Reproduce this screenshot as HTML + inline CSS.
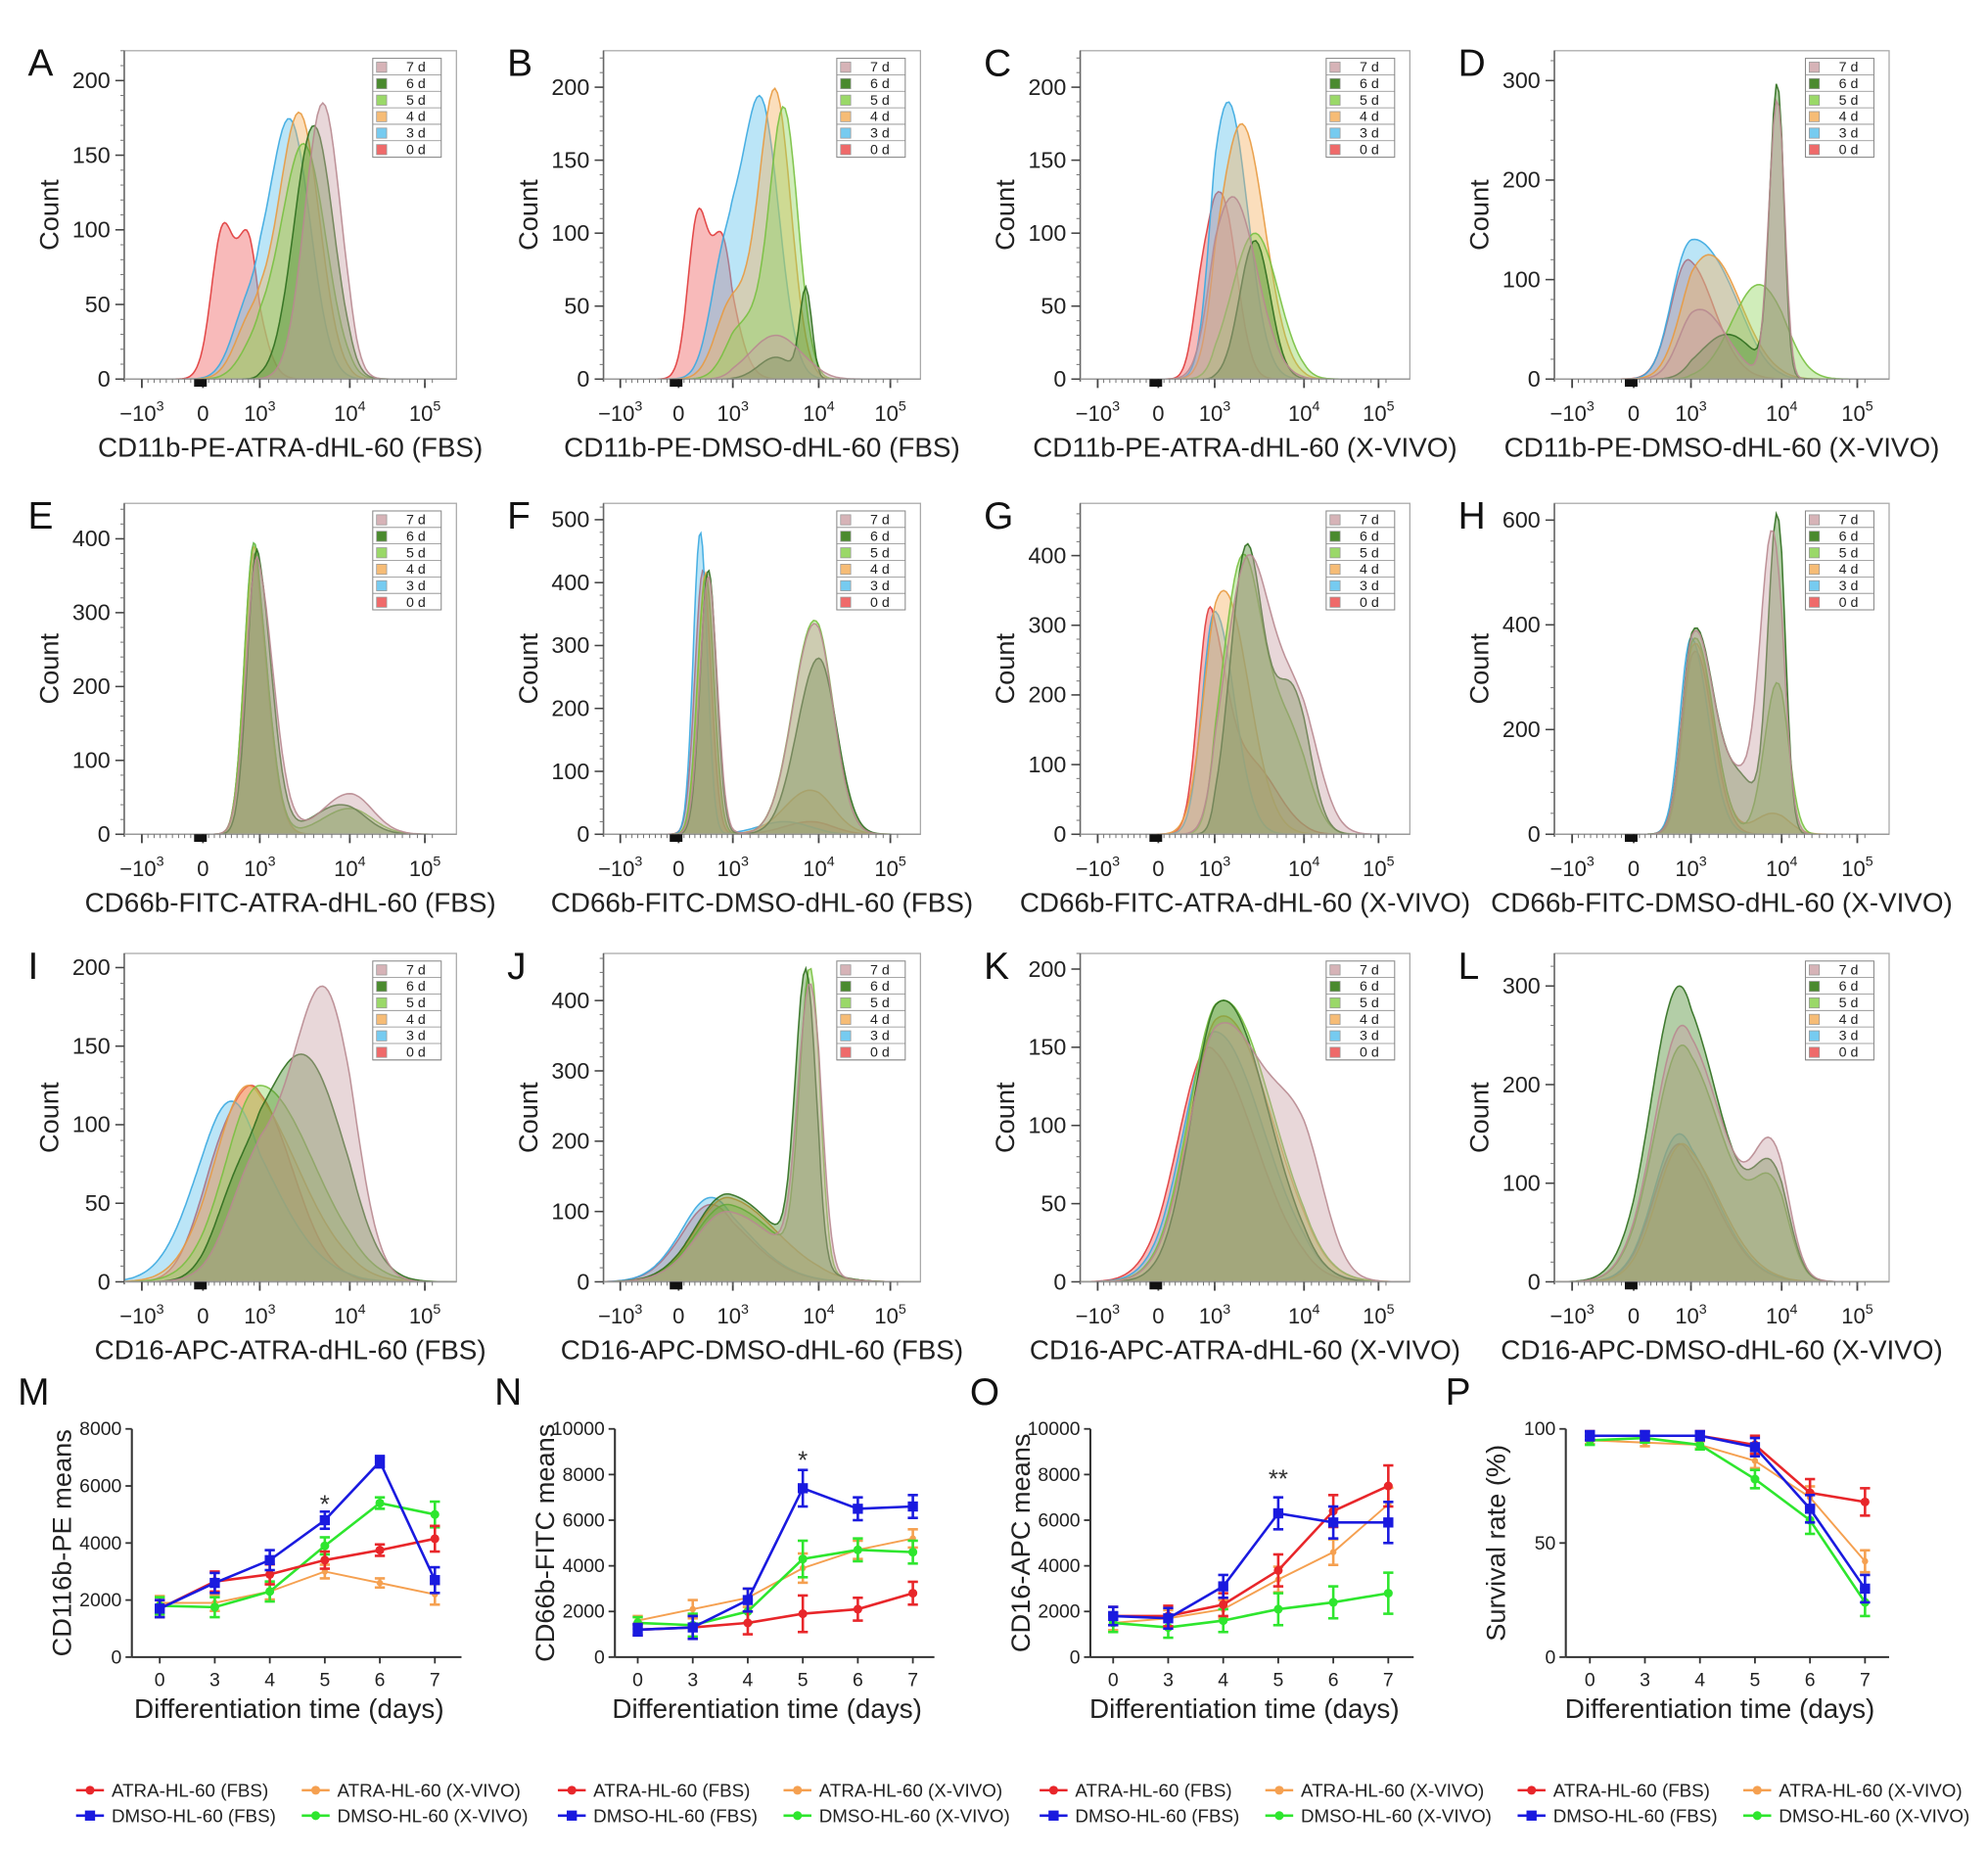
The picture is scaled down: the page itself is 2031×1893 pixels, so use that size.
<!DOCTYPE html>
<html><head><meta charset="utf-8"><style>
html,body{margin:0;padding:0;background:#fff;}
svg{display:block;font-family:"Liberation Sans",Arial,sans-serif;}
</style></head><body>
<svg id="fig" width="2031" height="1893" viewBox="0 0 1568 1461.5" preserveAspectRatio="none" xmlns="http://www.w3.org/2000/svg">
<rect x="0" y="0" width="1568" height="1461.5" fill="#fff"/>
</svg>
<script>
// ---------- histogram data (peak components: [center in decade units, height, sigma]) ----------
const histSeriesNames=['0 d','3 d','4 d','5 d','6 d','7 d'];
const legendOrder=['7 d','6 d','5 d','4 d','3 d','0 d'];
const xTickLabels=['-1e3','0','1e3','1e4','1e5'];
const xTickValues=[-1,0,1,2,3];
const panelLetters=['A','B','C','D','E','F','G','H','I','J','K','L'];
const panelTitles=['CD11b-PE-ATRA-dHL-60 (FBS)','CD11b-PE-DMSO-dHL-60 (FBS)','CD11b-PE-ATRA-dHL-60 (X-VIVO)','CD11b-PE-DMSO-dHL-60 (X-VIVO)',
'CD66b-FITC-ATRA-dHL-60 (FBS)','CD66b-FITC-DMSO-dHL-60 (FBS)','CD66b-FITC-ATRA-dHL-60 (X-VIVO)','CD66b-FITC-DMSO-dHL-60 (X-VIVO)',
'CD16-APC-ATRA-dHL-60 (FBS)','CD16-APC-DMSO-dHL-60 (FBS)','CD16-APC-ATRA-dHL-60 (X-VIVO)','CD16-APC-DMSO-dHL-60 (X-VIVO)'];
const panelYMax=[220,225,225,330,448,526,475,632,209,467,210,333];
const panelYTicks=[[0,50,100,150,200],[0,50,100,150,200],[0,50,100,150,200],[0,100,200,300],
[0,100,200,300,400],[0,100,200,300,400,500],[0,100,200,300,400],[0,200,400,600],
[0,50,100,150,200],[0,100,200,300,400],[0,50,100,150,200],[0,100,200,300]];
const peaksA=[[[0.35,100,0.2],[0.8,90,0.18]],[[0.85,55,0.3],[1.35,160,0.22]],[[0.9,45,0.3],[1.45,170,0.22]],[[1.0,30,0.3],[1.5,150,0.24]],[[1.6,170,0.22]],[[1.7,185,0.2]]];
const peaksB=[[[0.35,108,0.18],[0.8,95,0.2]],[[0.9,95,0.28],[1.35,165,0.2]],[[1.0,55,0.3],[1.5,185,0.18]],[[1.2,40,0.3],[1.6,170,0.16]],[[1.85,60,0.07],[1.5,15,0.2]],[[1.5,30,0.3]]];
const peaksC=[[[0.8,70,0.17],[1.1,110,0.16]],[[1.15,190,0.22]],[[1.3,175,0.26]],[[1.45,100,0.26]],[[1.45,95,0.17]],[[1.2,125,0.27]]];
const peaksD=[[[0.95,120,0.3]],[[0.9,110,0.28],[1.35,80,0.28]],[[1.2,125,0.35]],[[1.75,95,0.3]],[[1.4,45,0.3],[1.95,290,0.08]],[[1.1,70,0.3],[1.95,280,0.09]]];
const peaksE=[[[0.9,380,0.17]],[[0.9,395,0.17]],[[0.9,390,0.17]],[[0.9,395,0.17],[2.0,35,0.3]],[[0.95,385,0.17],[1.9,40,0.3]],[[0.95,375,0.19],[2.0,55,0.3]]];
const peaksF=[[[0.45,420,0.15],[1.9,20,0.3]],[[0.4,480,0.13],[1.6,20,0.3]],[[0.5,415,0.15],[1.9,70,0.3]],[[0.5,410,0.15],[1.95,340,0.25]],[[0.55,420,0.15],[2.0,280,0.25]],[[0.55,410,0.16],[1.95,335,0.25]]];
const peaksG=[[[0.9,300,0.2],[1.4,100,0.3]],[[1.0,320,0.22]],[[1.1,350,0.28]],[[1.3,380,0.22],[1.8,150,0.25]],[[1.35,400,0.18],[1.85,210,0.22]],[[1.35,370,0.25],[1.9,190,0.28]]];
const peaksH=[[[1.05,350,0.19]],[[1.0,375,0.19]],[[1.05,365,0.2],[1.9,40,0.2]],[[1.05,375,0.2],[1.95,290,0.14]],[[1.05,390,0.2],[1.95,600,0.1],[1.55,100,0.2]],[[1.05,385,0.2],[1.9,560,0.13],[1.55,100,0.2]]];
const peaksI=[[[0.3,70,0.4],[1.0,105,0.4]],[[0.5,115,0.6]],[[0.8,125,0.6]],[[1.0,125,0.6]],[[0.6,55,0.4],[1.5,140,0.45]],[[1.0,80,0.5],[1.75,160,0.33]]];
const peaksJ=[[[0.6,110,0.55]],[[0.6,120,0.55]],[[0.9,120,0.6]],[[0.9,110,0.6],[1.9,420,0.12]],[[0.9,125,0.6],[1.85,410,0.12]],[[0.9,100,0.6],[1.9,400,0.14]]];
const peaksK=[[[0.9,150,0.55]],[[1.0,160,0.55]],[[1.1,170,0.55]],[[1.1,180,0.55]],[[1.1,180,0.5]],[[1.1,165,0.55],[2.0,60,0.3]]];
const peaksL=[[[0.8,140,0.45]],[[0.8,150,0.45]],[[0.85,140,0.45]],[[0.85,240,0.5],[1.9,80,0.2]],[[0.8,300,0.5],[1.9,95,0.2]],[[0.85,260,0.5],[1.9,115,0.2]]];
const allPeaks=[peaksA,peaksB,peaksC,peaksD,peaksE,peaksF,peaksG,peaksH,peaksI,peaksJ,peaksK,peaksL];

// ---------- line chart data ----------
const days=['0','3','4','5','6','7'];
const lineSeriesNames=['ATRA-HL-60 (FBS)','ATRA-HL-60 (X-VIVO)','DMSO-HL-60 (FBS)','DMSO-HL-60 (X-VIVO)'];
const mRed=[1700,2650,2900,3400,3750,4150], mOrange=[1900,1900,2300,3000,2600,2200], mBlue=[1700,2600,3400,4800,6850,2700], mGreen=[1800,1750,2300,3900,5400,5000];
const mErr=[300,350,350,300,200,450];
const nRed=[1200,1300,1500,1900,2100,2800], nOrange=[1600,2100,2600,3900,4700,5200], nBlue=[1200,1300,2500,7400,6500,6600], nGreen=[1500,1400,2000,4300,4700,4600];
const nErr=[250,500,500,800,500,500];
const oRed=[1800,1800,2300,3800,6400,7500], oOrange=[1500,1700,2100,3400,4600,6700], oBlue=[1800,1700,3100,6300,5900,5900], oGreen=[1500,1300,1600,2100,2400,2800];
const oErr=[400,450,500,700,700,900];
const pRed=[97,97,97,93,72,68], pOrange=[95,94,93,86,70,42], pBlue=[97,97,97,92,65,30], pGreen=[95,96,93,78,60,24];
const pErr=[2,2,2,4,6,6];
const lineYMax=[8000,10000,10000,100];
const lineYTicks=[[0,2000,4000,6000,8000],[0,2000,4000,6000,8000,10000],[0,2000,4000,6000,8000,10000],[0,50,100]];
const lineTitles=['CD116b-PE means','CD66b-FITC means','CD16-APC means','Survival rate (%)'];
const lineLetters=['M','N','O','P'];

// ---------- layout ----------
const NS='http://www.w3.org/2000/svg';
const svg=document.getElementById('fig');
function mk(tag,attrs,parent){const e=document.createElementNS(NS,tag);for(const k in attrs)e.setAttribute(k,attrs[k]);(parent||svg).appendChild(e);return e;}
const colLeft=[98,476,852,1226], colW=[262,250,260,264];
const rowTop=[40,397,752], rowBot=[299,658,1011];
const histFill=['#ee5a5a','#5cc0ec','#f5b060','#8fd45a','#4a8a2e','#c9a0a5'];
const histStroke=['#e03a3a','#3aa8e0','#e89a40','#78c040','#2f6e1e','#b88a90'];
const legendColor={'7 d':'#d6b3b7','6 d':'#4a8a2e','5 d':'#9ad868','4 d':'#f6bc76','3 d':'#76cbf0','0 d':'#ef6a6a'};
const uKnots=[-1,0,1,2,3], fKnots=[0.053,0.237,0.408,0.679,0.905];
function uFrac(u){ if(u<=-1) return fKnots[0]+(u+1)*(fKnots[1]-fKnots[0]);
 if(u>=3) return fKnots[4]+(u-3)*(fKnots[4]-fKnots[3]);
 for(let i=0;i<4;i++){ if(u<=uKnots[i+1]) return fKnots[i]+(u-uKnots[i])*(fKnots[i+1]-fKnots[i]); } }

for(let p=0;p<12;p++){
  const c=p%4, r=Math.floor(p/4);
  const L=colLeft[c], W=colW[c], T=rowTop[r], B=rowBot[r], ymax=panelYMax[p];
  const xs=u=>L+uFrac(u)*W, ys=v=>B-v/ymax*(B-T);
  const g=mk('g',{});
  
  
  const lt=mk('text',{x:L-76,y:T+20,'font-size':30,fill:'#111'},g); lt.textContent=panelLetters[p];
  
  
  const clip='clip'+p;
  const cp=mk('clipPath',{id:clip},g); mk('rect',{x:L,y:T,width:W,height:B-T},cp);
  const sg=mk('g',{'clip-path':'url(#'+clip+')'},g);
  for(let s=0;s<6;s++){
    const comps=allPeaks[p][s];
    let d='M'+L+','+B;
    for(let i=0;i<=160;i++){
      const u=-1.3+i*(4.8/160); let v=0;
      for(const cpn of comps){const z=(u-cpn[0])/cpn[2]; v+=cpn[1]*Math.exp(-0.5*z*z);}
      d+=' L'+xs(u).toFixed(1)+','+ys(v).toFixed(1);
    }
    d+=' L'+(L+W)+','+B+' Z';
    const path=mk('path',{d:d,fill:histFill[s],'fill-opacity':0.42,stroke:histStroke[s],'stroke-width':1.2,'stroke-opacity':0.9},sg);
    
    
  }
  const box=mk('rect',{x:L,y:T,width:W,height:B-T,fill:'none',stroke:'#aaa','stroke-width':1},g);
  
  
  mk('line',{x1:L,y1:T,x2:L,y2:B+2,stroke:'#666','stroke-width':1.2},g);
  const step=panelYTicks[p][1]/5;
  for(let v=0;v<=ymax;v+=step){ mk('line',{x1:L-3,y1:ys(v),x2:L,y2:ys(v),stroke:'#777','stroke-width':0.8},g); }
  for(const v of panelYTicks[p]){
    mk('line',{x1:L-7,y1:ys(v),x2:L,y2:ys(v),stroke:'#444','stroke-width':1.2},g);
    const t=mk('text',{x:L-11,y:ys(v)+6,'font-size':18,'text-anchor':'end',fill:'#222'},g); t.textContent=v;
    
    
  }
  const yt=mk('text',{x:0,y:0,'font-size':21,'text-anchor':'middle',fill:'#222',transform:'translate('+(L-52)+','+((T+B)/2)+') rotate(-90)'},g); yt.textContent='Count';
  
  
  mk('line',{x1:L,y1:B,x2:L+W,y2:B,stroke:'#999','stroke-width':1.2},g);
  for(let i=0;i<5;i++){
    const x=xs(xTickValues[i]);
    mk('line',{x1:x,y1:B,x2:x,y2:B+7,stroke:'#444','stroke-width':1.4},g);
    const t=mk('text',{x:x,y:B+33,'font-size':17,'text-anchor':'middle',fill:'#222'},g);
    
    
    const lab=xTickLabels[i];
    if(lab==='0'){t.textContent='0';}
    else { const neg=lab[0]==='-'; const e=lab.slice(-1);
      const t1=mk('tspan',{},t); t1.textContent=(neg?'\u221210':'10');
      const t2=mk('tspan',{dy:-8,'font-size':11},t); t2.textContent=e; }
  }
  for(let u=-0.9;u<3.2;u+=0.1){ mk('line',{x1:xs(u),y1:B,x2:xs(u),y2:B+3,stroke:'#666','stroke-width':0.7},g); }
  mk('rect',{x:xs(0)-7,y:B,width:10,height:6,fill:'#111'},g);
  const xt=mk('text',{x:L+W/2,y:B+61,'font-size':21.5,'text-anchor':'middle',fill:'#222'},g); xt.textContent=panelTitles[p];
  
  
  const lx=L+W-66, ly=T+6;
  const lg=mk('g',{},g);
  
  
  mk('rect',{x:lx,y:ly,width:54,height:78,fill:'#fff',stroke:'#888','stroke-width':0.8},lg);
  for(let i=0;i<6;i++){
    const yy=ly+i*13;
    mk('line',{x1:lx,y1:yy+13,x2:lx+54,y2:yy+13,stroke:'#888','stroke-width':0.6},lg);
    mk('rect',{x:lx+3,y:yy+3,width:8,height:8,fill:legendColor[legendOrder[i]],stroke:'#999','stroke-width':0.6},lg);
    const t=mk('text',{x:lx+34,y:yy+10.5,'font-size':11,'text-anchor':'middle',fill:'#222'},lg); t.textContent=legendOrder[i];
    
    
  }
}

// ---------- line charts ----------
const lineLeft=[104,485,860,1235], lineRight=[364,737,1115,1490], lineX0=[126,503,878,1254];
const LY0=1307, LYT=1127, LSTEP=43.4;
const lineData=[[mRed,mOrange,mBlue,mGreen],[nRed,nOrange,nBlue,nGreen],[oRed,oOrange,oBlue,oGreen],[pRed,pOrange,pBlue,pGreen]];
const lineErr=[mErr,nErr,oErr,pErr];
const lineColors=['#e8262a','#f5a050','#1a1adf','#2ee62e'];
const drawOrder=[1,3,0,2];
const stars=[['*',3,4800+700],['*',3,7400+1400],['**',3,6300+1700],null];
for(let k=0;k<4;k++){
  const L=lineLeft[k], R=lineRight[k], ymax=lineYMax[k];
  const xs=i=>lineX0[k]+i*LSTEP, ys=v=>LY0-v/ymax*(LY0-LYT);
  const g=mk('g',{});
  
  
  const lt=mk('text',{x:L-90+(k===0?0:-5),y:1108,'font-size':30,fill:'#111'},g); lt.textContent=lineLetters[k];
  
  
  mk('line',{x1:L,y1:LYT,x2:L,y2:LY0,stroke:'#333','stroke-width':1.6},g);
  mk('line',{x1:L,y1:LY0,x2:R,y2:LY0,stroke:'#333','stroke-width':1.6},g);
  for(const v of lineYTicks[k]){
    mk('line',{x1:L-5,y1:ys(v),x2:L,y2:ys(v),stroke:'#333','stroke-width':1.4},g);
    const t=mk('text',{x:L-8,y:ys(v)+5,'font-size':15,'text-anchor':'end',fill:'#222'},g); t.textContent=v;
    
    
  }
  for(let i=0;i<days.length;i++){
    mk('line',{x1:xs(i),y1:LY0,x2:xs(i),y2:LY0+5,stroke:'#333','stroke-width':1.4},g);
    const t=mk('text',{x:xs(i),y:LY0+23,'font-size':15,'text-anchor':'middle',fill:'#222'},g); t.textContent=days[i];
    
    
  }
  const yt=mk('text',{x:0,y:0,'font-size':21,'text-anchor':'middle',fill:'#222',transform:'translate('+(L-48)+','+((LY0+LYT)/2)+') rotate(-90)'},g); yt.textContent=lineTitles[k];
  
  
  const xt=mk('text',{x:(L+R)/2-6,y:1355,'font-size':21.5,'text-anchor':'middle',fill:'#222'},g); xt.textContent='Differentiation time (days)';
  
  
  for(const s of drawOrder){
    const vals=lineData[k][s], err=lineErr[k], col=lineColors[s];
    const sg=mk('g',{},g);
    
    
    let d='';
    vals.forEach((v,i)=>{d+=(i?' L':'M')+xs(i)+','+ys(v);});
    mk('path',{d:d,fill:'none',stroke:col,'stroke-width':s===1?1.5:2},sg);
    vals.forEach((v,i)=>{
      const e=err[i]*(s===1?0.8:1);
      mk('line',{x1:xs(i),y1:ys(v-e),x2:xs(i),y2:ys(v+e),stroke:col,'stroke-width':2},sg);
      mk('line',{x1:xs(i)-4,y1:ys(v-e),x2:xs(i)+4,y2:ys(v-e),stroke:col,'stroke-width':2},sg);
      mk('line',{x1:xs(i)-4,y1:ys(v+e),x2:xs(i)+4,y2:ys(v+e),stroke:col,'stroke-width':2},sg);
      const m=s===2?mk('rect',{x:xs(i)-4,y:ys(v)-4,width:8,height:8,fill:col},sg):mk('circle',{cx:xs(i),cy:ys(v),r:s===1?2.5:3.5,fill:col},sg);
      
      
    });
  }
  if(stars[k]){
    const st=mk('text',{x:xs(stars[k][1]),y:ys(stars[k][2])+10,'font-size':20,'text-anchor':'middle',fill:'#333'},g); st.textContent=stars[k][0];
    
    
  }
}

// ---------- legends ----------
const legGroupX=[60,440,820,1197], legColX=[0,178];
for(let gi=0;gi<4;gi++){
  const lg=mk('g',{});
  
  
  const items=[[0,0,0],[1,1,0],[2,0,1],[3,1,1]];
  for(const it of items){
    const s=it[0], x=legGroupX[gi]+legColX[it[1]], y=1412+it[2]*20, col=lineColors[s];
    mk('line',{x1:x,y1:y,x2:x+22,y2:y,stroke:col,'stroke-width':2},lg);
    if(s===2) mk('rect',{x:x+7,y:y-4,width:8,height:8,fill:col},lg); else mk('circle',{cx:x+11,cy:y,r:3.5,fill:col},lg);
    const t=mk('text',{x:x+28,y:y+5,'font-size':14.5,fill:'#222'},lg); t.textContent=lineSeriesNames[s];
    
    
  }
}
</script>
</body></html>
